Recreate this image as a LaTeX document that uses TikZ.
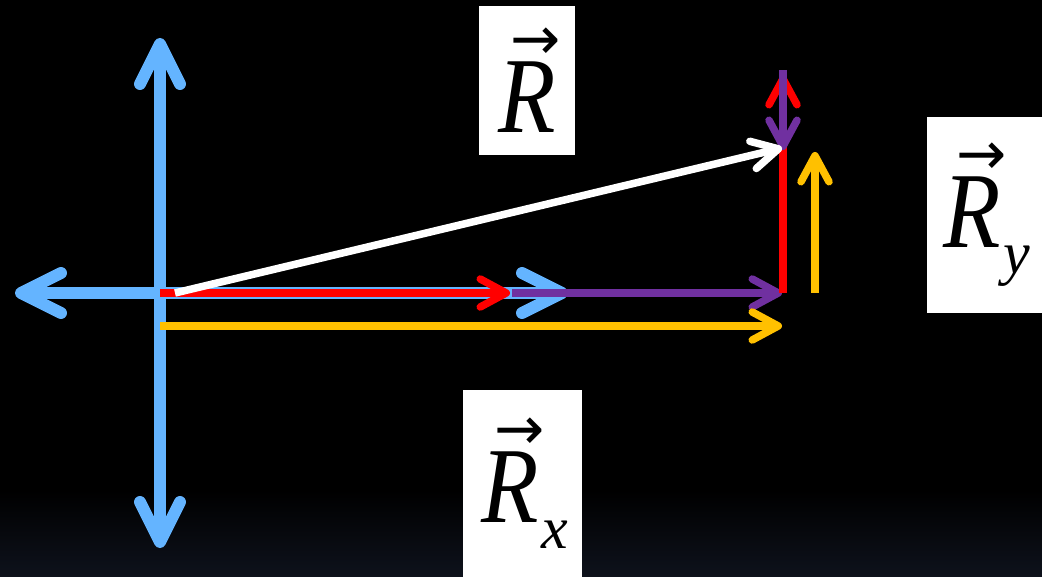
\documentclass[tikz,border=0pt]{standalone}
\usepackage{graphicx}
\usepackage{fontspec}
\setmainfont{Liberation Serif}
\newfontfamily\arrowfont{DejaVu Sans}
\usetikzlibrary{arrows.meta}
\definecolor{AxisBlue}{RGB}{100,180,255}
\definecolor{VecRed}{RGB}{255,0,0}
\definecolor{VecPurple}{RGB}{112,48,160}
\definecolor{VecGold}{RGB}{255,192,0}
\definecolor{Night}{RGB}{14,18,28}
% vector letter and its lowered index
\newcommand{\vecletter}{\leavevmode\vbox{\offinterlineskip\halign{\hfil##\hfil\cr
  \hskip18pt{\arrowfont\fontsize{60}{60}\selectfont →}\cr\noalign{\kern2pt}
  \scalebox{0.87}[1]{\textit{R}}\cr}}}
\newcommand{\lowindex}[1]{\kern-3pt\raisebox{-26pt}{\fontsize{60}{60}\selectfont\textit{#1}}}

\begin{document}
\begin{tikzpicture}[
    x=1pt,
    y=-1pt,
    axis/.style={
      line width=12pt,
      color=AxisBlue,
      >={Straight Barb[length=40pt,width=40pt,round]},
      <->
    },
    vec/.style={
      line width=7.5pt,
      >={Straight Barb[length=26pt,width=28pt,round]},
      ->
    },
    labelbox/.style={
      fill=white,
      inner sep=0pt,
      font=\fontsize{108}{108}\selectfont
    }
  ]
    \useasboundingbox (0,0) rectangle (1042,577);

    % Background
    \fill[black] (0,0) rectangle (1042,577);
    \shade[top color=black, bottom color=Night] (0,490) rectangle (1042,577);

    % Points
    \coordinate (O) at (160,293);
    \coordinate (axL) at (15,293);
    \coordinate (axR) at (568,293);
    \coordinate (axT) at (160,38);
    \coordinate (axB) at (160,548);
    \coordinate (redX) at (510,293);
    \coordinate (purX) at (512,293);
    \coordinate (tipX) at (782,293);
    \coordinate (foot) at (783,293);
    \coordinate (redTop) at (783,75);
    \coordinate (purTop) at (783,70);
    \coordinate (tipR) at (783,150);
    \coordinate (whiteS) at (175,293);
    \coordinate (whiteE) at (782,148);
    \coordinate (goldS) at (160,326);
    \coordinate (goldE) at (782,326);
    \coordinate (goldVS) at (815,293);
    \coordinate (goldVE) at (815,152);

    % Axes
    \draw[axis] (axL) -- (axR);
    \draw[axis] (axT) -- (axB);

    % Components
    \draw[vec, VecRed] (O) -- (redX);
    \draw[vec, VecPurple] (purX) -- (tipX);
    \draw[vec, VecRed] (foot) -- (redTop);
    \draw[vec, VecPurple] (purTop) -- (tipR);
    \draw[vec, VecGold] (goldS) -- (goldE);
    \draw[vec, VecGold] (goldVS) -- (goldVE);

    % Resultant
    \draw[vec, white] (whiteS) -- (whiteE);

    % Labels
    \node[labelbox, minimum width=96pt, minimum height=149pt] (lblR) at (527,80.5) {\vecletter};
    \node[labelbox, minimum width=119pt, minimum height=187pt] (lblRx) at (522.5,483.5) {\vecletter\lowindex{x}};
    \node[labelbox, minimum width=115pt, minimum height=196pt] (lblRy) at (984.5,215) {\vecletter\lowindex{y}};
  \end{tikzpicture}
\end{document}
